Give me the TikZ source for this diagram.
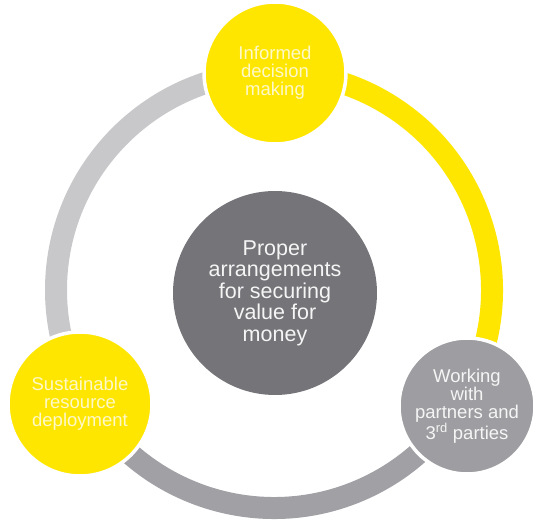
\documentclass[tikz,border=0pt]{standalone}
\usepackage{fontspec}
\setmainfont{Liberation Sans}
\definecolor{eyyellow}{RGB}{255,230,0}
\definecolor{ltgray}{RGB}{200,200,202}
\definecolor{midgray}{RGB}{160,160,165}
\definecolor{brgray}{RGB}{158,158,162}
\definecolor{dkgray}{RGB}{116,116,121}
\definecolor{paletext}{RGB}{255,248,200}
\definecolor{graytext}{RGB}{245,245,245}
\tikzset{
  ringarc/.style={line width=22pt},
  bubble/.style={circle, inner sep=0pt, align=center, draw=white, line width=3.5pt,
    font=\fontsize{18.5}{18}\selectfont},
  hub/.style={circle, inner sep=0pt, align=center, fill=dkgray, text=graytext,
    font=\fontsize{21.5}{21.5}\selectfont}
}
\begin{document}
\begin{tikzpicture}[x=1pt,y=1pt]
\useasboundingbox (0,0) rectangle (536,522);
\coordinate (ring) at (274,232);
% ring arcs
\draw[ringarc, ltgray] ([shift={(90:218)}]ring) arc[start angle=90, end angle=210, radius=218];
\draw[ringarc, midgray] ([shift={(210:218)}]ring) arc[start angle=210, end angle=330, radius=218];
\draw[ringarc, eyyellow] ([shift={(-30:218)}]ring) arc[start angle=-30, end angle=90, radius=218];
% centre
\node[hub, minimum size=204pt] (hubnode) at (275,229) {Proper\\arrangements\\for securing\\value for\\money};
% bubbles
\node[bubble, fill=eyyellow, text=paletext, minimum size=142pt] (top) at (275,449) {Informed\\decision\\making};
\node[bubble, fill=eyyellow, text=paletext, minimum size=144pt] (bl) at (80,118) {Sustainable\\resource\\deployment};
\node[bubble, fill=brgray, text=graytext, minimum size=136pt] (br) at (467,116) {Working\\with\\partners and\\3\textsuperscript{rd} parties};
\end{tikzpicture}
\end{document}
